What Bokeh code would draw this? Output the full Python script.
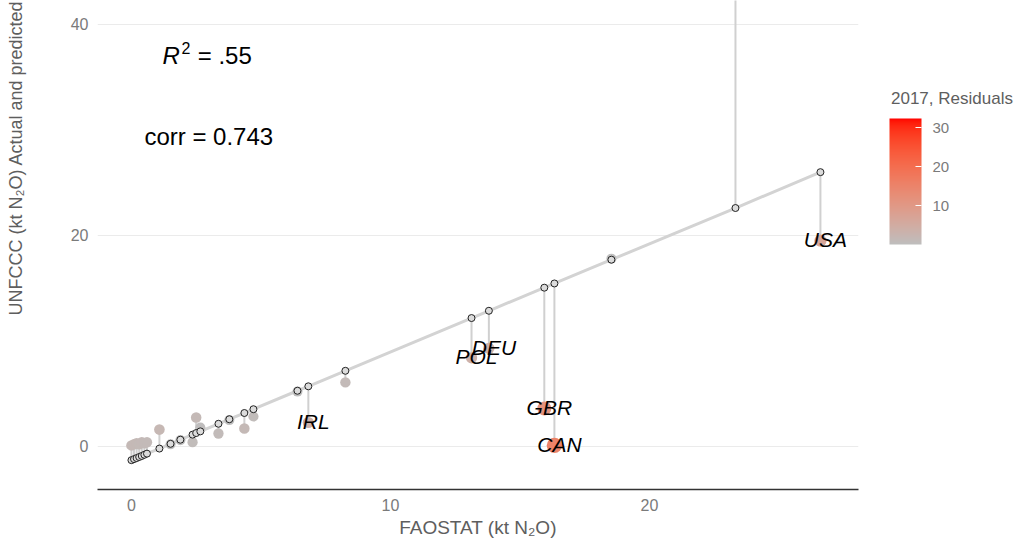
import numpy as np
from bokeh.plotting import figure
from bokeh.models import (ColumnDataSource, LinearColorMapper, ColorBar, FixedTicker,
                          Range1d, Title, Legend, LegendItem)
from bokeh.core.properties import value
from bokeh.embed import file_html
from bokeh.resources import INLINE

# ---------------- data ----------------
faostat = [0.0, 0.1, 0.2, 0.3, 0.4, 0.5, 0.6, 1.08, 1.51, 1.89, 2.36, 2.5, 2.66, 3.36,
           3.78, 4.36, 4.71, 6.41, 6.83, 8.26, 13.13, 13.8, 15.94, 16.33, 18.53, 23.32, 26.6]
predicted = [-1.3, -1.2, -1.1, -1.0, -0.9, -0.79, -0.68, -0.2, 0.25, 0.64, 1.12, 1.27, 1.43,
             2.15, 2.58, 3.17, 3.53, 5.28, 5.7, 7.17, 12.17, 12.86, 15.05, 15.45, 17.7, 22.6, 26.0]
actual = [0.1, 0.2, 0.3, 0.2, 0.4, 0.3, 0.4, 1.6, 0.2, 0.6, 0.4, 2.75, 1.8, 1.23,
          2.5, 1.7, 2.84, 5.2, 2.27, 6.07, 8.4, 9.3, 3.6, 0.1, 17.8, 55.0, 19.5]
country = ["", "", "", "", "", "", "", "", "", "", "", "", "", "",
           "", "", "", "", "IRL", "", "POL", "DEU", "GBR", "CAN", "", "", "USA"]
x_ticks = [0, 10, 20]
y_ticks = [0, 20, 40]
legend_ticks = [10, 20, 30]
r2_value = ".55"
corr_value = "0.743"
legend_title = "2017, Residuals"
x_label = "FAOSTAT (kt N\u2082O)"
y_label = "UNFCCC (kt N\u2082O) Actual and predicted"

residual = [abs(a - p) for a, p in zip(actual, predicted)]

# ---------------- grey -> red palette (Lab interpolation) ----------------
def _to_lin(c):
    c = c / 255.0
    return c / 12.92 if c <= 0.04045 else ((c + 0.055) / 1.055) ** 2.4

def _from_lin(c):
    c = 12.92 * c if c <= 0.0031308 else 1.055 * c ** (1 / 2.4) - 0.055
    return int(round(min(max(c, 0), 1) * 255))

M = np.array([[0.4124, 0.3576, 0.1805], [0.2126, 0.7152, 0.0722], [0.0193, 0.1192, 0.9505]])
Minv = np.linalg.inv(M)
WHITE = np.array([0.95047, 1.0, 1.08883])

def _f(t):
    return t ** (1 / 3) if t > 0.008856 else 7.787 * t + 16 / 116

def _finv(t):
    return t ** 3 if t ** 3 > 0.008856 else (t - 16 / 116) / 7.787

def rgb2lab(rgb):
    xyz = M @ np.array([_to_lin(c) for c in rgb]) / WHITE
    fx, fy, fz = [_f(v) for v in xyz]
    return np.array([116 * fy - 16, 500 * (fx - fy), 200 * (fy - fz)])

def lab2hex(lab):
    L, a, b = lab
    fy = (L + 16) / 116
    fx = fy + a / 500
    fz = fy - b / 200
    xyz = np.array([_finv(fx), _finv(fy), _finv(fz)]) * WHITE
    rgb = Minv @ xyz
    return "#%02x%02x%02x" % tuple(_from_lin(c) for c in rgb)

lo, hi = rgb2lab((190, 190, 190)), rgb2lab((255, 0, 0))
palette = [lab2hex(lo + (hi - lo) * t) for t in np.linspace(0, 1, 256)]

# ---------------- figure ----------------
FONT = "Liberation Sans"
p = figure(width=1017, height=541, output_backend="svg", toolbar_location=None,
           x_range=Range1d(-1.31, 28.07), y_range=Range1d(-4.08, 42.27),
           min_border_left=97, min_border_right=159, min_border_top=0, min_border_bottom=52)
p.outline_line_color = None
p.background_fill_color = "white"
p.border_fill_color = "white"

src = ColumnDataSource(dict(x=faostat, pred=predicted, act=actual, res=residual,
                            size=[10 + 0.35 * r for r in residual], lab=country))
mapper = LinearColorMapper(palette=palette, low=0, high=max(residual))

seg = p.segment(x0="x", y0="pred", x1="x", y1="act", source=src, line_color="#d0d0d0",
                line_width=2)
p.line(x="x", y="pred", source=src, line_color="#d3d3d3", line_width=3)
p.scatter(x="x", y="act", source=src, size="size", line_color=None,
          fill_color={"field": "res", "transform": mapper})
p.scatter(x="x", y="pred", source=src, size=7, line_color="#222222", line_width=1,
          fill_color="#dcdcdc")
p.text(x="x", y="act", text="lab", source=src, text_font=value(FONT),
       text_font_style="italic", text_font_size="21px", text_color="black",
       text_align="center", text_baseline="middle", x_offset=5, y_offset=-1)

# annotations
p.text(x=[1.2], y=[37.06], text=["R"], text_font=value(FONT), text_font_style="italic",
       text_font_size="24px", text_color="black", text_baseline="alphabetic")
p.text(x=[1.93], y=[37.8], text=["2"], text_font=value(FONT),
       text_font_size="16px", text_color="black", text_baseline="alphabetic")
p.text(x=[2.56], y=[37.06], text=["= " + r2_value], text_font=value(FONT),
       text_font_size="24px", text_color="black", text_baseline="alphabetic")
p.text(x=[0.5], y=[29.38], text=["corr = " + corr_value], text_font=value(FONT),
       text_font_size="24px", text_color="black", text_baseline="alphabetic")

# axes
p.xaxis.ticker = FixedTicker(ticks=x_ticks)
p.yaxis.ticker = FixedTicker(ticks=y_ticks)
for ax in (p.xaxis[0], p.yaxis[0]):
    ax.major_tick_line_color = None
    ax.minor_tick_line_color = None
    ax.major_label_text_font = FONT
    ax.major_label_text_font_size = "16px"
    ax.major_label_text_color = "#7a7a7a"
    ax.axis_label_text_font = FONT
    ax.axis_label_text_font_style = "normal"
    ax.axis_label_text_font_size = "19px"
    ax.axis_label_text_color = "#5e5e5e"
p.xaxis.axis_line_color = "#333333"
p.xaxis.axis_line_width = 1.5
p.xaxis.major_label_standoff = 3
p.xaxis.axis_label = x_label
p.xaxis.axis_label_standoff = 3
p.yaxis.axis_line_color = None
p.yaxis.major_label_standoff = 3
# blank spacer label so that the real (top-aligned) y title sits further left
p.yaxis.axis_label = " "
p.yaxis.axis_label_text_font_size = "18px"
p.yaxis.axis_label_standoff = 16

p.xgrid.grid_line_color = None
p.ygrid.grid_line_color = "#ebebeb"
p.ygrid.grid_line_width = 1

# y-axis title, top-aligned like the original
p.add_layout(Title(text=y_label, align="right", text_font=FONT, text_font_size="18px",
                   text_font_style="normal", text_color="#5e5e5e", standoff=6), "left")

# colour bar
cb = ColorBar(color_mapper=mapper, ticker=FixedTicker(ticks=legend_ticks),
              width=32, height=126, padding=0, margin=0, location=(792, 245),
              major_label_text_font=FONT, major_label_text_font_size="15px",
              major_label_text_color="#7a7a7a", label_standoff=11,
              major_tick_line_color="white", major_tick_in=6, major_tick_out=0,
              bar_line_color=None, border_line_color=None, background_fill_color=None)
p.add_layout(cb, "center")

# colour bar title (horizontal), placed in the right side panel
lg = Legend(items=[LegendItem(label=legend_title, renderers=[seg])], location=(0, 380),
            glyph_width=0, glyph_height=20, label_standoff=33, label_height=20, padding=0,
            margin=0, spacing=0, border_line_color=None, background_fill_color=None,
            label_text_font=FONT, label_text_font_size="17px", label_text_color="#5e5e5e")
p.add_layout(lg, "right")

open("out.html", "w").write(file_html(p, INLINE))
